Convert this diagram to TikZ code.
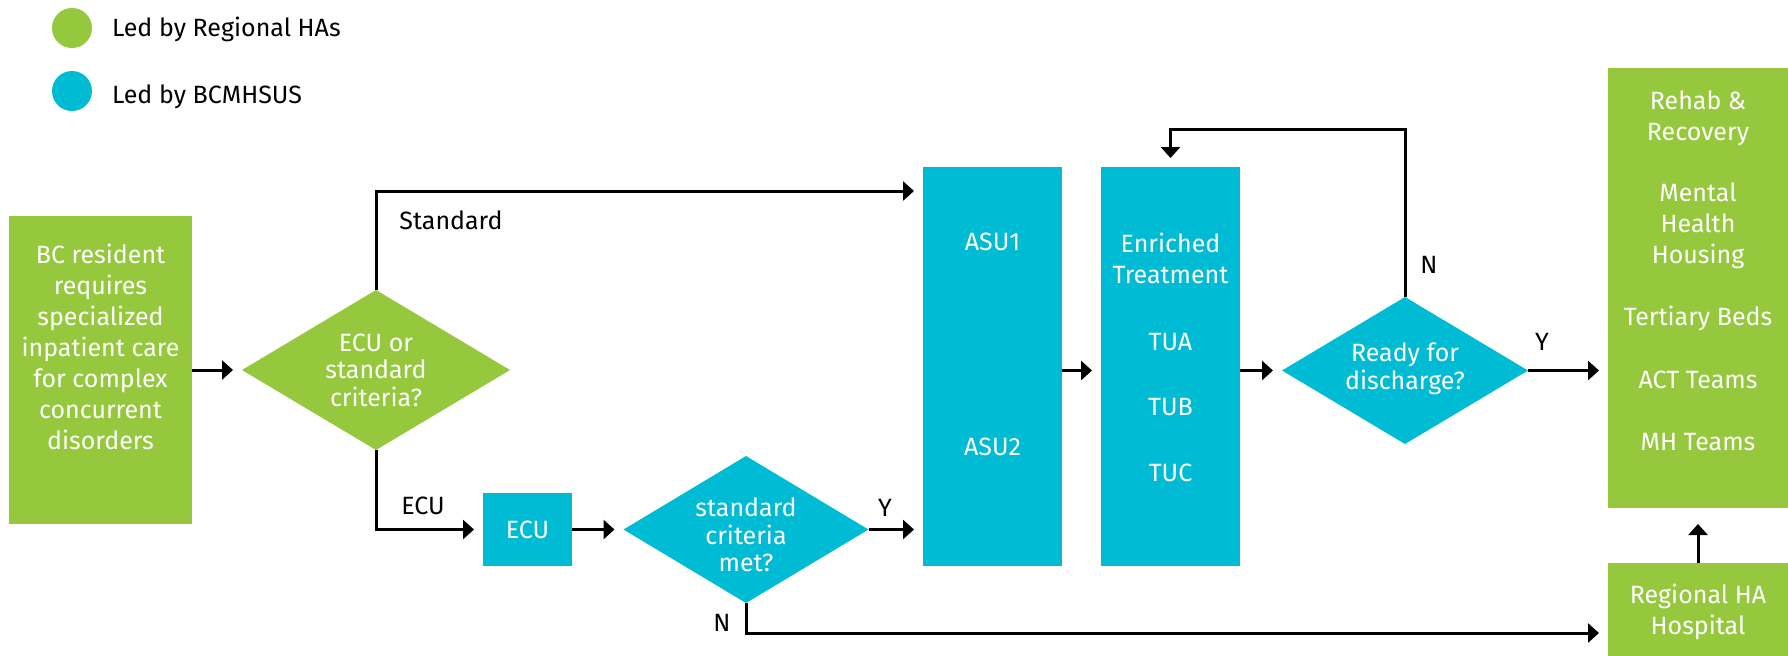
\documentclass[tikz,border=0pt]{standalone}
\usepackage{fontspec}
\setmainfont{Fira Sans}
\usetikzlibrary{shapes.geometric,arrows.meta,calc}
\definecolor{hagreen}{RGB}{149,200,61}
\definecolor{mhblue}{RGB}{0,187,212}

\begin{document}
\begin{tikzpicture}[x=0.5pt,y=-0.5pt,
  every node/.style={inner sep=0pt, outer sep=0pt},
  fillbox/.style={rectangle, draw=none},
  greenbox/.style={fillbox, fill=hagreen},
  bluebox/.style={fillbox, fill=mhblue},
  decision/.style={diamond, draw=none},
  dot/.style={circle, minimum size=20pt},
  inbox/.style={text=white, align=center, font=\fontsize{12.5}{15.5}\selectfont},
  indiamond/.style={text=white, align=center, font=\fontsize{12.5}{13.8}\selectfont},
  edgelabel/.style={text=black, font=\fontsize{12.5}{15}\selectfont},
  conn/.style={draw=black, line width=1.5pt, -{Triangle[length=5.5pt,width=9.5pt]}, shorten >=4.5pt},
]
\useasboundingbox (0,0) rectangle (1788,655);

% legend
\node[dot, fill=hagreen] (lgreen) at (72,28) {};
\node[dot, fill=mhblue] (lblue) at (72,91) {};
\node[edgelabel, anchor=base west] (lgreentxt) at (112,36) {Led by Regional HAs};
\node[edgelabel, anchor=base west] (lbluetxt) at (112,103) {Led by BCMHSUS};

% boxes
\node[greenbox, minimum width=91.5pt, minimum height=154pt] (bc) at (100.5,370) {};
\node[inbox] (bctxt) at (100.5,347) {BC resident\\requires\\specialized\\inpatient care\\for complex\\concurrent\\disorders};

\node[decision, fill=hagreen, minimum width=134pt, minimum height=80pt] (d1) at (376,370) {};
\node[indiamond] (d1txt) at (376,370) {ECU or\\standard\\criteria?};

\node[bluebox, minimum width=44.5pt, minimum height=36.5pt] (ecu) at (527.5,529.5) {};
\node[inbox] (ecutxt) at (527.5,529.5) {ECU};

\node[decision, fill=mhblue, minimum width=122.5pt, minimum height=73.5pt] (d2) at (746,529.5) {};
\node[indiamond] (d2txt) at (746,535) {standard\\criteria\\met?};

\node[bluebox, minimum width=69.5pt, minimum height=199.5pt] (asu) at (992.5,366.5) {};
\node[inbox] (asu1) at (992.5,242) {ASU1};
\node[inbox] (asu2) at (992.5,447) {ASU2};

\node[bluebox, minimum width=69.5pt, minimum height=199.5pt] (enr) at (1170.5,366.5) {};
\node[inbox] (enrtxt) at (1170.5,258) {Enriched\\Treatment};
\node[inbox] (tua) at (1170.5,342) {TUA};
\node[inbox] (tub) at (1170.5,407) {TUB};
\node[inbox] (tuc) at (1170.5,473) {TUC};

\node[decision, fill=mhblue, minimum width=123pt, minimum height=73.5pt] (rd) at (1405,370.5) {};
\node[indiamond] (rdtxt) at (1405,369) {Ready for\\discharge?};

\node[greenbox, minimum width=90pt, minimum height=220pt] (out) at (1698,288) {};
\node[inbox] (rehab) at (1698,118) {Rehab \&\\Recovery};
\node[inbox] (mhh) at (1698,226) {Mental\\Health\\Housing};
\node[inbox] (tert) at (1698,318) {Tertiary Beds};
\node[inbox] (act) at (1698,380) {ACT Teams};
\node[inbox] (mht) at (1698,442) {MH Teams};

\node[greenbox, minimum width=90pt, minimum height=49pt] (hosp) at (1698,612) {};
\node[inbox] (hosptxt) at (1698,612) {Regional HA\\Hospital};

% connectors
\draw[conn] (bc.east) -- (d1.west);
\draw[conn] (d1.north) |- ([yshift=-12pt]asu.north west);
\draw[conn] (d1.south) |- (ecu.west);
\draw[conn] (ecu.east) -- (d2.west);
\draw[conn] (d2.east) -- (d2.east -| asu.west);
\draw[conn] (d2.south) |- ([yshift=-10.5pt]hosp.west);
\draw[conn] (asu.east |- rd.west) -- (enr.west |- rd.west);
\draw[conn] (enr.east |- rd.west) -- (rd.west);
\draw[conn] (rd.north) -- ++(0,-168) -| (enr.north);
\draw[conn] (rd.east) -- (rd.east -| out.west);
\draw[conn, shorten >=8pt] (hosp.north) -- (out.south);

% branch labels
\node[edgelabel] (lstd) at (451,220) {Standard};
\node[edgelabel] (lecu) at (423,506) {ECU};
\node[edgelabel] (ly1) at (885,508) {Y};
\node[edgelabel] (ln1) at (722,623) {N};
\node[edgelabel] (ln2) at (1429,265) {N};
\node[edgelabel] (ly2) at (1542,342) {Y};
\end{tikzpicture}
\end{document}
